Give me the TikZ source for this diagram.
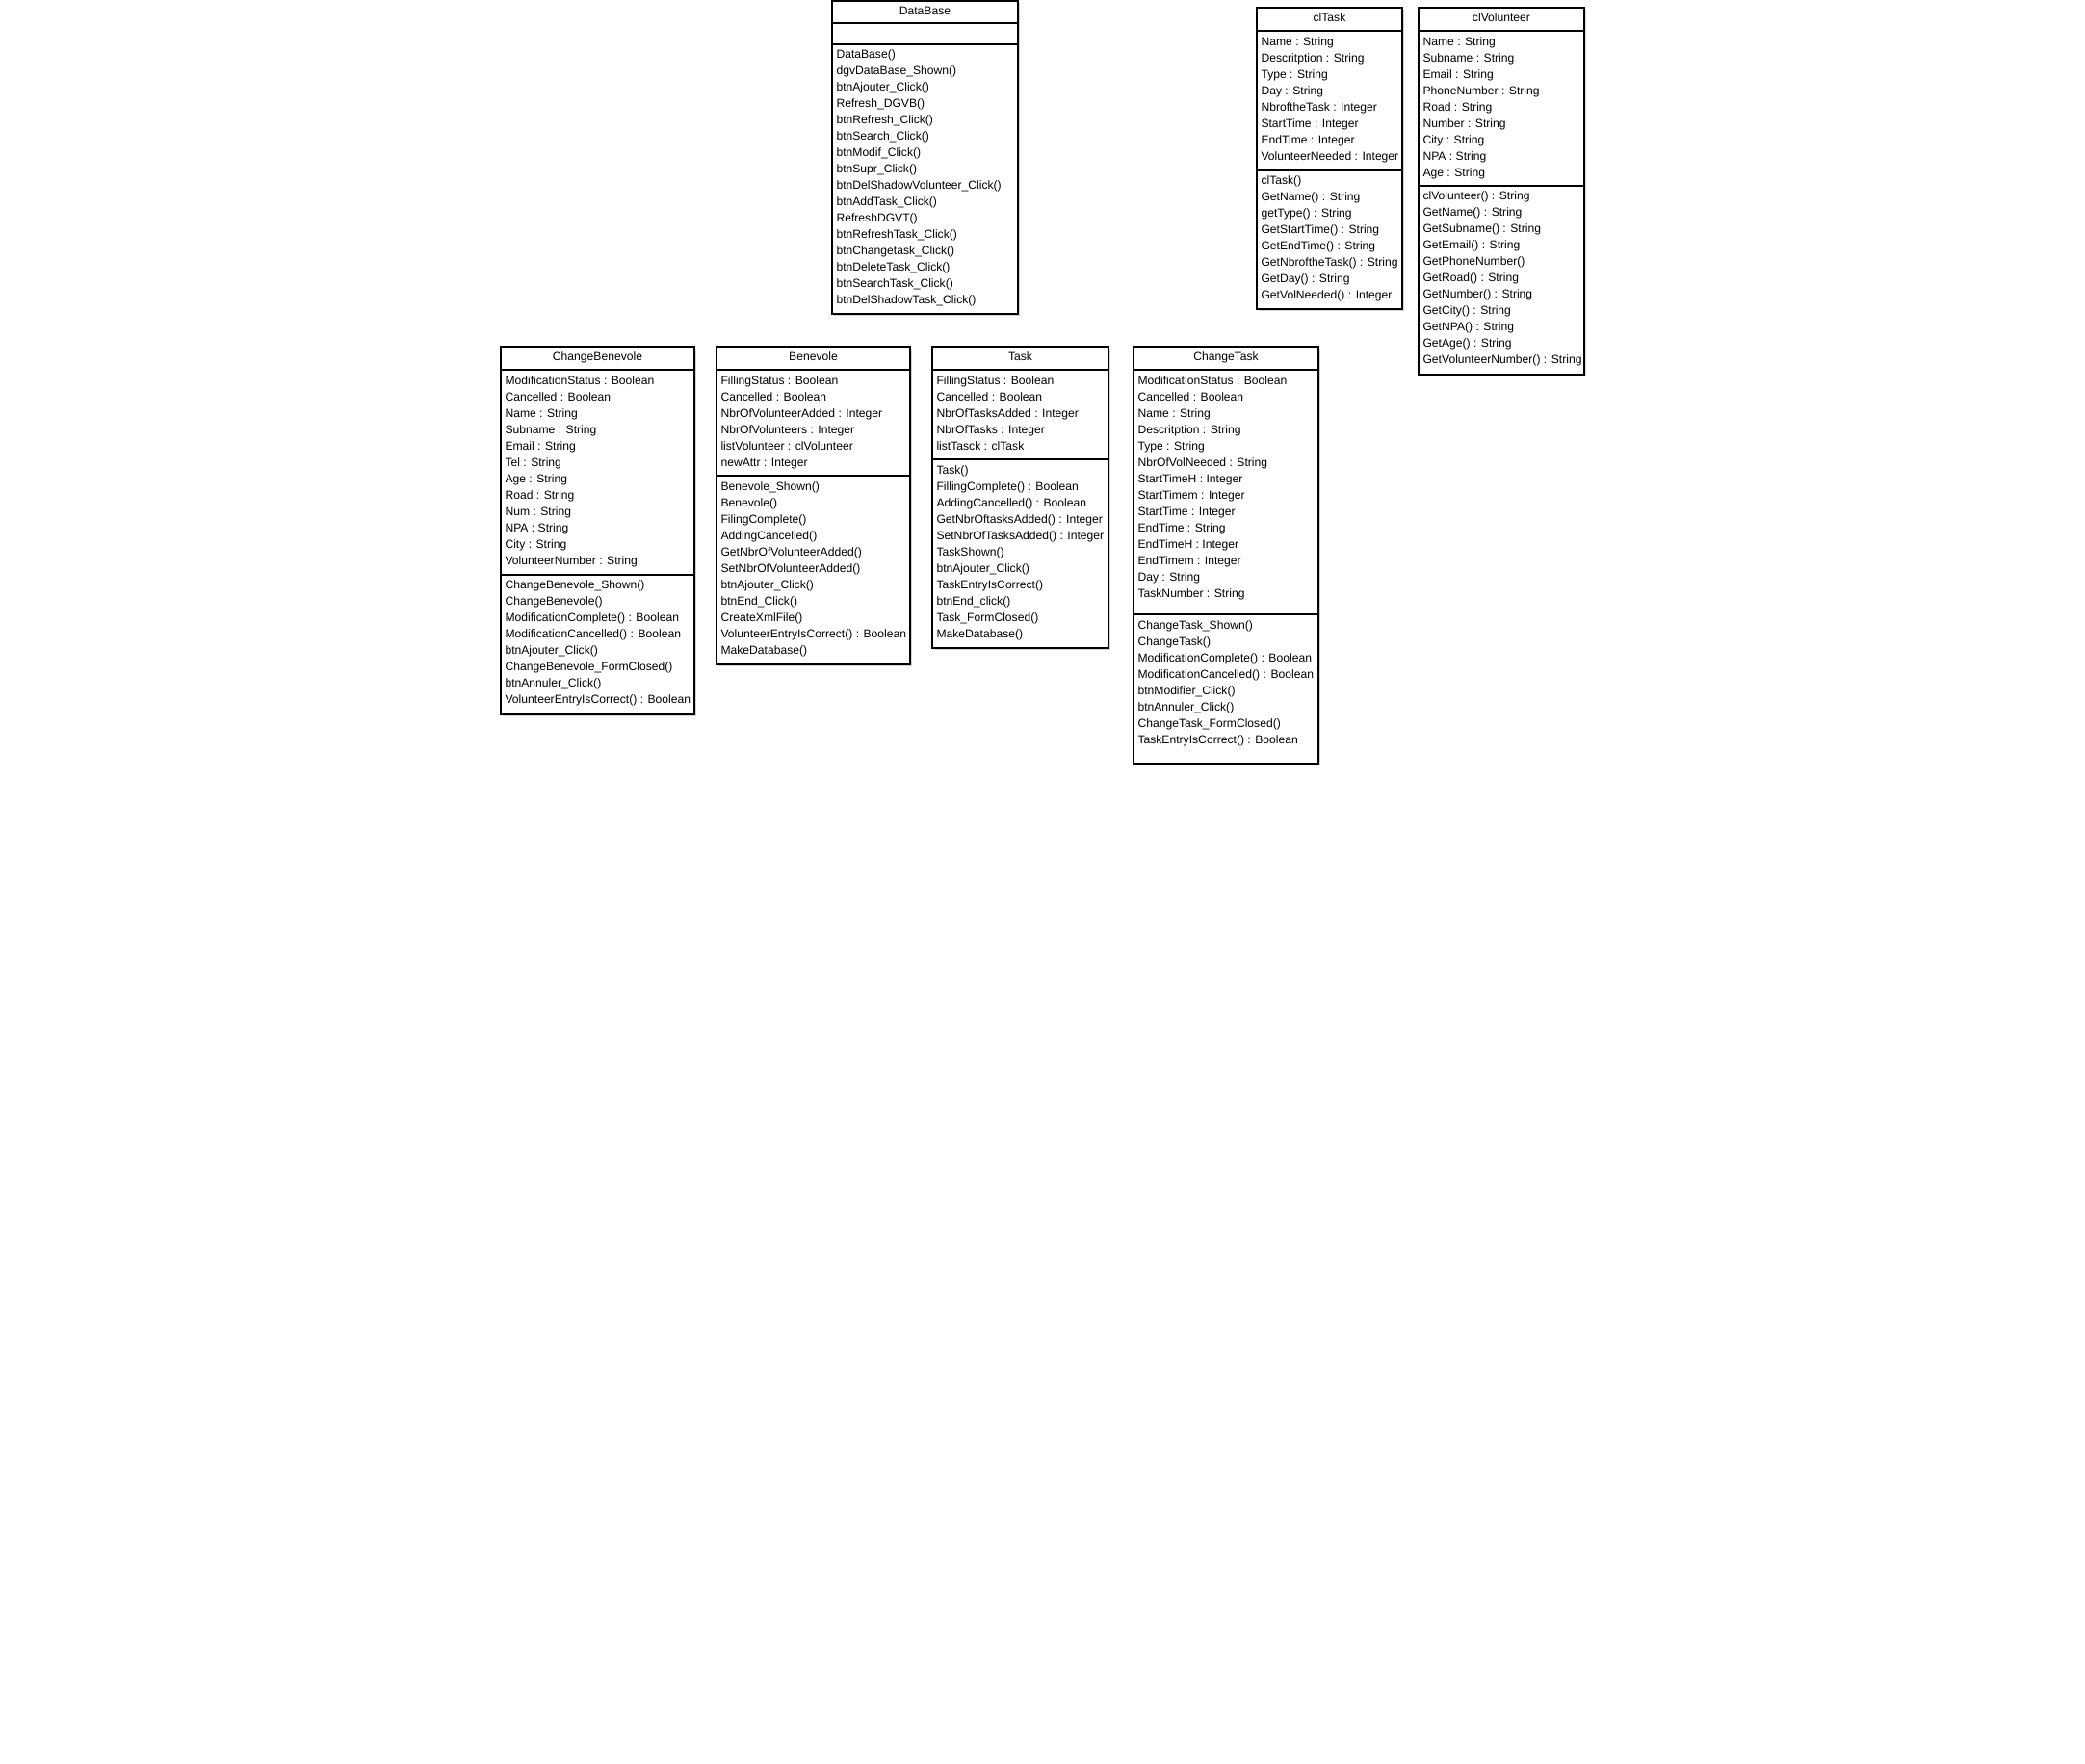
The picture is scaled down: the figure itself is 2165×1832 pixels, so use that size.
\documentclass[tikz,border=0pt]{standalone}
\usepackage{fontspec}
\setmainfont{Liberation Sans}
\begin{document}
\begin{tikzpicture}[x=0.01cm,y=-0.01cm,line width=0.3pt,
    classbox/.style={draw,fill=white},
    boxshadow/.style={fill=black!18},
    classname/.style={anchor=base,inner sep=0pt,font=\fontsize{3.45pt}{4pt}\selectfont},
    member/.style={anchor=base west,inner sep=0pt,font=\fontsize{3.45pt}{4pt}\selectfont}]
\useasboundingbox (0,0) rectangle (2165,1832);
% DataBase
\fill[boxshadow] (865.5,2.5) rectangle (1058.5,327.5);
\draw[classbox] (864,1) rectangle (1057,326);
\draw (864,24)--(1057,24) (864,46)--(1057,46);
\node[classname] (db) at (960.5,15) {DataBase};
\foreach \m [count=\i from 0] in {DataBase(),dgvDataBase\_Shown(),btnAjouter\_Click(),Refresh\_DGVB(),btnRefresh\_Click(),btnSearch\_Click(),btnModif\_Click(),btnSupr\_Click(),btnDelShadowVolunteer\_Click(),btnAddTask\_Click(),RefreshDGVT(),btnRefreshTask\_Click(),btnChangetask\_Click(),btnDeleteTask\_Click(),btnSearchTask\_Click(),btnDelShadowTask\_Click()}
    \node[member] (db-m\i) at (868,{60.5+17*\i}) {\m};
% clTask
\fill[boxshadow] (1306.5,9.5) rectangle (1457.5,322.5);
\draw[classbox] (1305,8) rectangle (1456,321);
\draw (1305,32)--(1456,32) (1305,177)--(1456,177);
\node[classname] (ct) at (1380.5,22.5) {clTask};
\foreach \m [count=\i from 0] in {Name : String,Descritption : String,Type : String,Day : String,NbroftheTask : Integer,StartTime : Integer,EndTime : Integer,VolunteerNeeded : Integer}
    \node[member] (ct-a\i) at (1309,{47+17*\i}) {\m};
\foreach \m [count=\i from 0] in {clTask(),GetName() : String,getType() : String,GetStartTime() : String,GetEndTime() : String,GetNbroftheTask() : String,GetDay() : String,GetVolNeeded() : Integer}
    \node[member] (ct-m\i) at (1309,{191.5+17*\i}) {\m};
% clVolunteer
\fill[boxshadow] (1474.5,9.5) rectangle (1646.5,390.5);
\draw[classbox] (1473,8) rectangle (1645,389);
\draw (1473,32)--(1645,32) (1473,193)--(1645,193);
\node[classname] (cv) at (1559,22.5) {clVolunteer};
\foreach \m [count=\i from 0] in {Name : String,Subname : String,Email : String,PhoneNumber : String,Road : String,Number : String,City : String,NPA : String,Age : String}
    \node[member] (cv-a\i) at (1477,{47+17*\i}) {\m};
\foreach \m [count=\i from 0] in {clVolunteer() : String,GetName() : String,GetSubname() : String,GetEmail() : String,GetPhoneNumber(),GetRoad() : String,GetNumber() : String,GetCity() : String,GetNPA() : String,GetAge() : String,GetVolunteerNumber() : String}
    \node[member] (cv-m\i) at (1477,{207.5+17*\i}) {\m};
% ChangeBenevole
\fill[boxshadow] (521.5,361.5) rectangle (722.5,743.5);
\draw[classbox] (520,360) rectangle (721,742);
\draw (520,384)--(721,384) (520,597)--(721,597);
\node[classname] (cb) at (620.5,374.5) {ChangeBenevole};
\foreach \m [count=\i from 0] in {ModificationStatus : Boolean,Cancelled : Boolean,Name : String,Subname : String,Email : String,Tel : String,Age : String,Road : String,Num : String,NPA : String,City : String,VolunteerNumber : String}
    \node[member] (cb-a\i) at (524,{399+17*\i}) {\m};
\foreach \m [count=\i from 0] in {ChangeBenevole\_Shown(),ChangeBenevole(),ModificationComplete() : Boolean,ModificationCancelled() : Boolean,btnAjouter\_Click(),ChangeBenevole\_FormClosed(),btnAnnuler\_Click(),VolunteerEntryIsCorrect() : Boolean}
    \node[member] (cb-m\i) at (524,{611.5+17*\i}) {\m};
% Benevole
\fill[boxshadow] (745.5,361.5) rectangle (946.5,691.5);
\draw[classbox] (744,360) rectangle (945,690);
\draw (744,384)--(945,384) (744,494)--(945,494);
\node[classname] (bv) at (844.5,374.5) {Benevole};
\foreach \m [count=\i from 0] in {FillingStatus : Boolean,Cancelled : Boolean,NbrOfVolunteerAdded : Integer,NbrOfVolunteers : Integer,listVolunteer : clVolunteer,newAttr : Integer}
    \node[member] (bv-a\i) at (748,{399+17*\i}) {\m};
\foreach \m [count=\i from 0] in {Benevole\_Shown(),Benevole(),FilingComplete(),AddingCancelled(),GetNbrOfVolunteerAdded(),SetNbrOfVolunteerAdded(),btnAjouter\_Click(),btnEnd\_Click(),CreateXmlFile(),VolunteerEntryIsCorrect() : Boolean,MakeDatabase()}
    \node[member] (bv-m\i) at (748,{509+17*\i}) {\m};
% Task
\fill[boxshadow] (969.5,361.5) rectangle (1152.5,674.5);
\draw[classbox] (968,360) rectangle (1151,673);
\draw (968,384)--(1151,384) (968,477)--(1151,477);
\node[classname] (tk) at (1059.5,374.5) {Task};
\foreach \m [count=\i from 0] in {FillingStatus : Boolean,Cancelled : Boolean,NbrOfTasksAdded : Integer,NbrOfTasks : Integer,listTasck : clTask}
    \node[member] (tk-a\i) at (972,{399+17*\i}) {\m};
\foreach \m [count=\i from 0] in {Task(),FillingComplete() : Boolean,AddingCancelled() : Boolean,GetNbrOftasksAdded() : Integer,SetNbrOfTasksAdded() : Integer,TaskShown(),btnAjouter\_Click(),TaskEntryIsCorrect(),btnEnd\_click(),Task\_FormClosed(),MakeDatabase()}
    \node[member] (tk-m\i) at (972,{492.5+17*\i}) {\m};
% ChangeTask
\fill[boxshadow] (1178.5,361.5) rectangle (1370.5,794.5);
\draw[classbox] (1177,360) rectangle (1369,793);
\draw (1177,384)--(1369,384) (1177,638)--(1369,638);
\node[classname] (ck) at (1273,374.5) {ChangeTask};
\foreach \m [count=\i from 0] in {ModificationStatus : Boolean,Cancelled : Boolean,Name : String,Descritption : String,Type : String,NbrOfVolNeeded : String,StartTimeH : Integer,StartTimem : Integer,StartTime : Integer,EndTime : String,EndTimeH : Integer,EndTimem : Integer,Day : String,TaskNumber : String}
    \node[member] (ck-a\i) at (1181,{399+17*\i}) {\m};
\foreach \m [count=\i from 0] in {ChangeTask\_Shown(),ChangeTask(),ModificationComplete() : Boolean,ModificationCancelled() : Boolean,btnModifier\_Click(),btnAnnuler\_Click(),ChangeTask\_FormClosed(),TaskEntryIsCorrect() : Boolean}
    \node[member] (ck-m\i) at (1181,{653+17*\i}) {\m};
\end{tikzpicture}
\end{document}
